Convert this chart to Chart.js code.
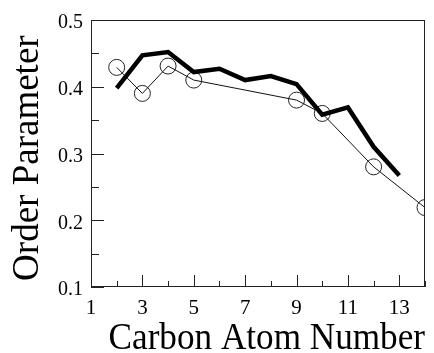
<!DOCTYPE html>
<html>
<head>
<meta charset="utf-8">
<script src="https://cdn.jsdelivr.net/npm/chart.js@4/dist/chart.umd.min.js"></script>
<style>
html,body{margin:0;padding:0;background:#fff;}
#wrap{width:434px;height:353px;position:relative;}
</style>
</head>
<body>
<div id="wrap"><canvas id="c" width="434" height="353"></canvas></div>
<script>
const thickCarbons = [2,3,4,5,6,7,8,9,10,11,12,13];
const thickValues  = [0.398,0.447,0.452,0.422,0.427,0.410,0.416,0.404,0.358,0.369,0.310,0.267];
const circleCarbons = [2,3,4,5,9,10,12,14];
const circleValues  = [0.429,0.390,0.431,0.410,0.380,0.360,0.280,0.219];
const xTickLabels = [1,3,5,7,9,11,13];
const yTickLabels = [0.1,0.2,0.3,0.4,0.5];
const xTitle = '  Carbon Atom Number';
const yTitle = 'Order Parameter ';

const serif = '"Liberation Serif", "DejaVu Serif", serif';

const framePlugin = {
  id: 'frame',
  afterDraw(chart) {
    const {ctx, chartArea: a, scales} = chart;
    ctx.save();
    ctx.strokeStyle = '#222';
    ctx.lineWidth = 1;
    ctx.strokeRect(a.left + 0.5, a.top + 0.5, a.right - a.left - 1, a.bottom - a.top - 1);
    const ys = scales.y;
    for (let v = 0.1; v <= 0.5001; v += 0.05) {
      const py = Math.round(ys.getPixelForValue(v)) + 0.5;
      const major = yTickLabels.some(t => Math.abs(t - v) < 1e-6);
      const len = major ? 13 : 8;
      ctx.beginPath();
      ctx.moveTo(a.left, py);
      ctx.lineTo(a.left + len, py);
      ctx.stroke();
    }
    const xs = scales.x;
    for (let v = 1; v <= 14; v++) {
      const px = Math.round(xs.getPixelForValue(v)) + 0.5;
      const major = xTickLabels.includes(v);
      const len = major ? 12 : 6;
      ctx.beginPath();
      ctx.moveTo(px, a.bottom);
      ctx.lineTo(px, a.bottom - len);
      ctx.stroke();
    }
    ctx.restore();
  }
};

new Chart(document.getElementById('c'), {
  type: 'line',
  data: {
    datasets: [
      {
        data: circleCarbons.map((x, i) => ({x, y: circleValues[i]})),
        borderColor: '#111',
        borderWidth: 1,
        pointRadius: 8,
        pointBorderWidth: 1,
        pointBorderColor: '#222',
        pointBackgroundColor: 'rgba(0,0,0,0)',
        tension: 0,
        order: 2
      },
      {
        data: thickCarbons.map((x, i) => ({x, y: thickValues[i]})),
        borderColor: '#000',
        borderWidth: 4.5,
        pointRadius: 0,
        tension: 0,
        borderJoinStyle: 'miter',
        order: 1
      }
    ]
  },
  options: {
    responsive: false,
    animation: false,
    events: [],
    layout: {padding: {left: 0, top: 17, right: 1, bottom: 0}},
    plugins: {legend: {display: false}, tooltip: {enabled: false}},
    scales: {
      x: {
        type: 'linear',
        min: 1, max: 14,
        afterFit(s) { s.height = 66; },
        grid: {display: false, drawTicks: false},
        border: {display: false},
        ticks: {
          stepSize: 1,
          autoSkip: false,
          maxRotation: 0,
          padding: 9,
          color: '#000',
          font: {family: serif, size: 21},
          callback: v => xTickLabels.includes(v) ? String(v) : ''
        },
        title: {
          display: true,
          text: xTitle,
          color: '#000',
          font: {family: serif, size: 37, lineHeight: 1.0},
          padding: {top: 0, bottom: -5}
        }
      },
      y: {
        min: 0.1, max: 0.5,
        afterFit(s) { s.width = 91; },
        grid: {display: false, drawTicks: false},
        border: {display: false},
        ticks: {
          stepSize: 0.1,
          padding: 8,
          labelOffset: 3,
          color: '#000',
          font: {family: serif, size: 20},
          callback: v => v.toFixed(1)
        },
        title: {
          display: true,
          text: yTitle,
          color: '#000',
          font: {family: serif, size: 37, lineHeight: 1.0},
          padding: {top: 10, bottom: 0}
        }
      }
    }
  },
  plugins: [framePlugin]
});
</script>
</body>
</html>
